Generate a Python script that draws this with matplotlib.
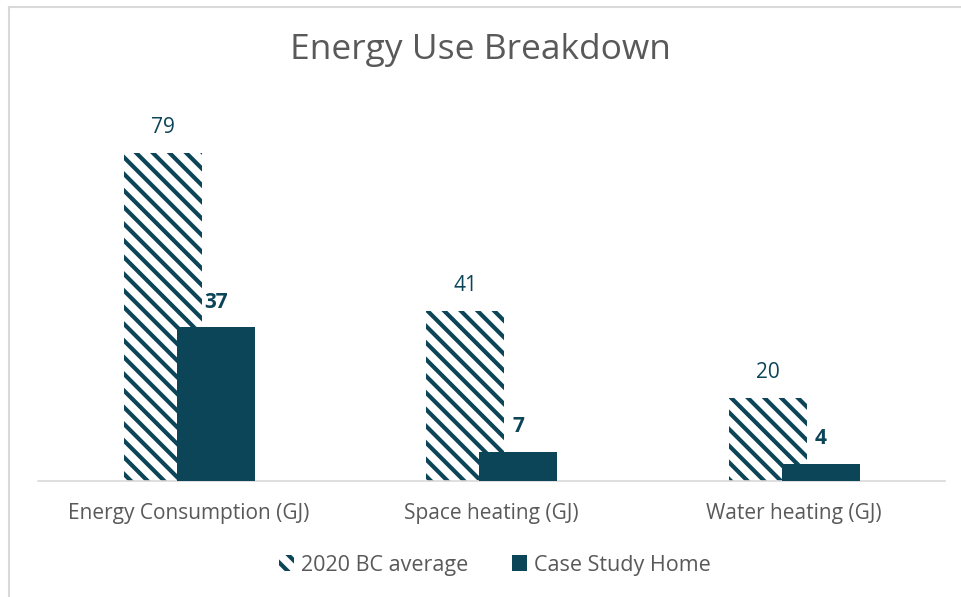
import numpy as np
import matplotlib.pyplot as plt
from matplotlib.patches import Patch
from matplotlib.lines import Line2D

categories = ["Energy Consumption (GJ)", "Space heating (GJ)", "Water heating (GJ)"]
bc_average = [79, 41, 20]
case_study = [37, 7, 4]

teal = "#0c4458"
grey_text = "#595959"

plt.rcParams['font.family'] = ['Open Sans', 'DejaVu Sans']
plt.rcParams['hatch.linewidth'] = 3.0
plt.rcParams['hatch.color'] = teal

fig = plt.figure(figsize=(9.61, 5.97), dpi=100)
ax = fig.add_axes([38 / 961, 116 / 597, 907 / 961, 373.5 / 597])

x = np.arange(len(categories))
w = 0.258
b1 = ax.bar(x - 0.087, bc_average, w, color="white", edgecolor=teal,
            linewidth=0, hatch="\\\\", zorder=2)
b2 = ax.bar(x + 0.089, case_study, w, color=teal, linewidth=0, zorder=3)

for rect, v in zip(b1, bc_average):
    ax.text(rect.get_x() + rect.get_width() / 2, v + 3.6, str(v),
            ha="center", va="bottom", fontsize=15, color=teal)
for rect, v in zip(b2, case_study):
    ax.text(rect.get_x() + rect.get_width() / 2, v + 3.6, str(v),
            ha="center", va="bottom", fontsize=15, color=teal, fontweight="bold")

ax.set_xlim(-0.5, 2.5)
ax.set_ylim(0, 90)
ax.set_yticks([])
ax.set_xticks(x)
ax.set_xticklabels(categories, fontsize=15, color=grey_text)
ax.tick_params(axis="x", length=0, pad=16)
for s in ["top", "right", "left"]:
    ax.spines[s].set_visible(False)
ax.spines["bottom"].set_color("#d9d9d9")
ax.spines["bottom"].set_linewidth(1.2)

fig.text(0.5, 1 - 50 / 597, "Energy Use Breakdown", ha="center", va="center",
         fontsize=25.5, color=grey_text)

handles = [Patch(facecolor="white", edgecolor=teal, hatch="\\\\", linewidth=0),
           Patch(facecolor=teal, linewidth=0)]
fig.legend(handles, ["2020 BC average", "Case Study Home"], loc="center",
           bbox_to_anchor=(0.515, 1 - 565 / 597), ncol=2, frameon=False,
           fontsize=15.5, labelcolor=grey_text, handlelength=0.7, handleheight=0.7,
           handletextpad=0.35, columnspacing=2.0)

# thin frame on the top and left edges
fig.add_artist(Line2D([8.5 / 961, 8.5 / 961], [0, 1 - 6.5 / 597],
                      transform=fig.transFigure, color="#d9d9d9", lw=1.5))
fig.add_artist(Line2D([8.5 / 961, 1], [1 - 6.5 / 597, 1 - 6.5 / 597],
                      transform=fig.transFigure, color="#d9d9d9", lw=1.5))

fig.savefig("out.png", dpi=100)
